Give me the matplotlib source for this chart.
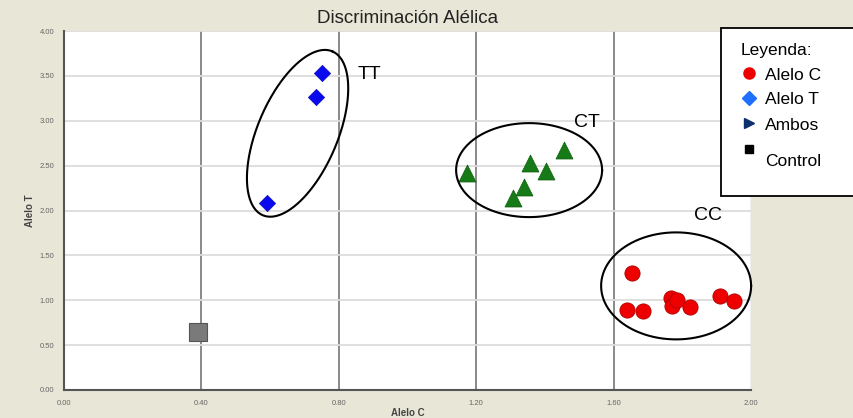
import numpy as np
import matplotlib
matplotlib.use("Agg")
import matplotlib.pyplot as plt
from matplotlib.lines import Line2D
from matplotlib.patches import Rectangle

plt.rcParams['font.family'] = ['Liberation Sans', 'DejaVu Sans']

# genotype clusters (Alelo C, Alelo T)
tt_x = [0.751, 0.734, 0.591]
tt_y = [3.53, 3.26, 2.08]

ct_x = [1.173, 1.307, 1.339, 1.357, 1.403, 1.456]
ct_y = [2.42, 2.14, 2.26, 2.53, 2.44, 2.67]

cc_x = [1.654, 1.639, 1.686, 1.767, 1.770, 1.785, 1.822, 1.910, 1.950]
cc_y = [1.30, 0.89, 0.88, 1.03, 0.94, 1.00, 0.92, 1.05, 0.99]

ctrl_x = [0.39]
ctrl_y = [0.65]

# cluster rings: label, center x, center y, half axes (px), angle (deg), label pos
rings = ['TT', 'CT', 'CC']
ring_cx = [0.680, 1.354, 1.782]
ring_cy = [2.86, 2.45, 1.16]
ring_a = [89, 73, 75]
ring_b = [40, 47, 53.5]
ring_ang = [67, 0, 0]
ring_lx = [0.855, 1.486, 1.835]
ring_ly = [3.52, 2.98, 1.94]

legend_labels = ['Alelo C', 'Alelo T', 'Ambos', 'Control']
legend_markers = ['o', 'D', '>', 's']
legend_colors = ['#ee0000', '#1e6fff', '#0d2f6b', 'black']
legend_sizes = [8, 7, 7.5, 6]

x_ticks = [0.0, 0.4, 0.8, 1.2, 1.6, 2.0]
y_ticks = [0.0, 0.5, 1.0, 1.5, 2.0, 2.5, 3.0, 3.5, 4.0]

bg = '#e8e6d6'
W, H = 854, 418
fig = plt.figure(figsize=(8.54, 4.18), dpi=100, facecolor=bg)
ax = fig.add_axes([64 / W, 1 - 390 / H, 687 / W, 359 / H])
ax.set_facecolor('white')

ax.set_xlim(0, 2)
ax.set_ylim(0, 4)
ax.set_xticks(x_ticks)
ax.set_yticks(y_ticks)
ax.set_xticklabels([f'{v:.2f}' for v in x_ticks])
ax.set_yticklabels([f'{v:.2f}' for v in y_ticks])
ax.tick_params(length=0, labelsize=5.5, labelcolor='#666666', pad=7)

for v in x_ticks[1:-1]:
    ax.axvline(v, color='#808080', lw=1.3, zorder=1)
ax.axvline(2.0, color='#bbbbbb', lw=1.0, zorder=1)
for v in y_ticks[1:]:
    ax.axhline(v, color='#dcdcdc', lw=1.3, zorder=1)

for s in ['top', 'right']:
    ax.spines[s].set_visible(False)
for s in ['left', 'bottom']:
    ax.spines[s].set_color('#555555')
    ax.spines[s].set_linewidth(1.5)

ax.set_xlabel('Alelo C', fontsize=7, fontweight='bold', color='#444444', labelpad=1)
ax.set_ylabel('Alelo T', fontsize=7, fontweight='bold', color='#444444', labelpad=3)
ax.set_title('Discriminación Alélica', fontsize=13.5, color='#222222', pad=6)

ax.scatter(cc_x, cc_y, s=120, marker='o', color='#ee0000', edgecolor='#b00000', lw=0.6, zorder=3)
ax.scatter(tt_x, tt_y, s=70, marker='D', color='#0a0aee', edgecolor='#0000aa', lw=0.4, zorder=3)
ax.scatter(ct_x, ct_y, s=150, marker='^', color='#167a16', edgecolor='#0e5e0e', lw=0.5, zorder=3)
ax.scatter(ctrl_x, ctrl_y, s=150, marker='s', color='#7a7a7a', edgecolor='#555555', lw=0.8, zorder=3)

# ellipses defined in pixel units, mapped to data units
sx = 687 / 2.0
sy = 359 / 4.0
t = np.linspace(0, 2 * np.pi, 300)
for i, name in enumerate(rings):
    th = np.radians(ring_ang[i])
    px = ring_a[i] * np.cos(t) * np.cos(th) - ring_b[i] * np.sin(t) * np.sin(th)
    py = ring_a[i] * np.cos(t) * np.sin(th) + ring_b[i] * np.sin(t) * np.cos(th)
    ax.plot(ring_cx[i] + px / sx, ring_cy[i] + py / sy, color='black', lw=1.5, zorder=4,
            clip_on=False)
    ax.text(ring_lx[i], ring_ly[i], name, fontsize=14, color='black', ha='left', va='center',
            zorder=5)

# legend box, drawn by hand in figure pixels
fig.add_artist(Rectangle((721 / W, 1 - 196 / H), 140 / W, 168 / H, transform=fig.transFigure,
                         facecolor='white', edgecolor='black', lw=1.3, clip_on=False, zorder=5))
fig.text(741 / W, 1 - 50 / H, 'Leyenda:', fontsize=12.5, va='center', ha='left', zorder=6)
rows_y = [75, 100, 125, 162]
mk_shift = [2, 2, 2, 13]
for i, lab in enumerate(legend_labels):
    yy = 1 - rows_y[i] / H
    fig.add_artist(Line2D([749 / W], [yy + mk_shift[i] / H], transform=fig.transFigure,
                          ls='none', marker=legend_markers[i], color=legend_colors[i],
                          markersize=legend_sizes[i], zorder=6))
    fig.text(765 / W, yy, lab, fontsize=12.5, va='center', ha='left', zorder=6)

fig.savefig('out.png', dpi=100, facecolor=bg)
